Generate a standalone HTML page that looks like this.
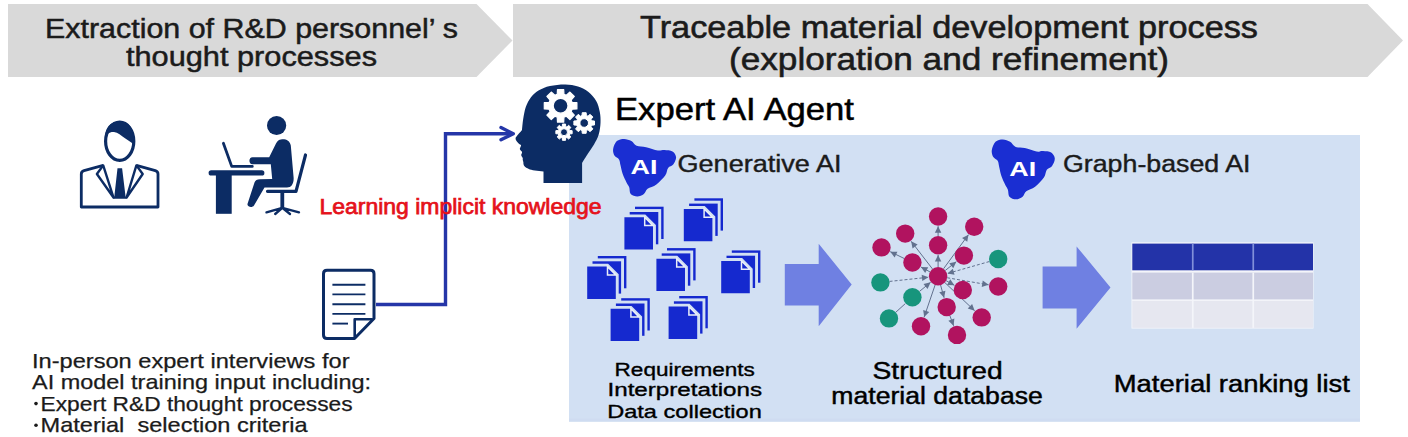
<!DOCTYPE html>
<html><head><meta charset="utf-8"><style>
html,body{margin:0;padding:0;background:#fff;width:1408px;height:437px;overflow:hidden}
svg{display:block}
text{font-family:"Liberation Sans",sans-serif}
</style></head><body>
<svg width="1408" height="437" viewBox="0 0 1408 437">
<polygon points="8,4 476.5,4 512.5,40.5 476.5,77 8,77" fill="#d9d9d9"/>
<polygon points="513,4 1367.5,4 1403,40.5 1367.5,77 513,77" fill="#d9d9d9"/>
<text x="45" y="37.8" font-size="27.5" textLength="413" lengthAdjust="spacingAndGlyphs" fill="#1b1b1b" stroke="#1b1b1b" stroke-width="0.5">Extraction of R&amp;D personnel’ s</text>
<text x="126" y="65.8" font-size="27.5" textLength="251" lengthAdjust="spacingAndGlyphs" fill="#1b1b1b" stroke="#1b1b1b" stroke-width="0.5">thought processes</text>
<text x="640" y="37.7" font-size="30.5" textLength="618" lengthAdjust="spacingAndGlyphs" fill="#1b1b1b" stroke="#1b1b1b" stroke-width="0.55">Traceable material development process</text>
<text x="729" y="69.8" font-size="30.5" textLength="440" lengthAdjust="spacingAndGlyphs" fill="#1b1b1b" stroke="#1b1b1b" stroke-width="0.55">(exploration and refinement)</text>
<rect x="569" y="135" width="791" height="286.6" fill="#d2e0f3"/>
<rect x="569" y="418.6" width="791" height="3" fill="#cfdcf1"/>
<text x="615" y="119.6" font-size="31.5" textLength="239" lengthAdjust="spacingAndGlyphs" fill="#000" stroke="#000" stroke-width="0.5">Expert AI Agent</text>
<polyline points="376,304.5 445.5,304.5 445.5,133.7 512,133.7" fill="none" stroke="#2536a8" stroke-width="3.4"/>
<polyline points="501,127.6 513.3,133.7 501,139.8" fill="none" stroke="#2536a8" stroke-width="3.4" stroke-linecap="round" stroke-linejoin="round"/>
<text x="319.5" y="214.3" font-size="22" textLength="282" lengthAdjust="spacingAndGlyphs" fill="#e5121b" stroke="#e5121b" stroke-width="0.75">Learning implicit knowledge</text>
<path d="M522.00,129.90 C522.20,128.08 522.57,122.82 523.20,119.00 C523.83,115.18 524.53,110.58 525.80,107.00 C527.07,103.42 528.68,100.25 530.80,97.50 C532.92,94.75 535.30,92.42 538.50,90.50 C541.70,88.58 545.53,87.02 550.00,86.00 C554.47,84.98 560.63,84.32 565.30,84.40 C569.97,84.48 574.13,85.23 578.00,86.50 C581.87,87.77 585.47,89.58 588.50,92.00 C591.53,94.42 594.32,97.67 596.20,101.00 C598.08,104.33 599.08,108.33 599.80,112.00 C600.52,115.67 600.68,119.25 600.50,123.00 C600.32,126.75 599.78,130.92 598.70,134.50 C597.62,138.08 595.78,141.33 594.00,144.50 C592.22,147.67 589.98,150.42 588.00,153.50 C586.02,156.58 583.08,161.42 582.10,163.00 L582.1,183 L543.5,183 L543.5,171.5 C538,170.5 531,170.3 528.9,168.9 C524.8,167.3 523.2,165.5 523.4,162.5 C523.3,160.8 522.4,160 522.8,158.2 C522.4,157 521,156 521.2,154.8 C521.6,153.6 522.3,152.8 522,151.8 C521,150.8 519.8,149.8 519.8,148.8 C520.2,147.2 521.3,146.0 521,144.9 C519.8,144.3 518.3,143.6 518,142.8 C516.8,141.5 515.2,139.8 515.6,137.8 C517.5,134.5 521,131.5 522,129.9 Z" fill="#0c2c64"/>
<path d="M557.25,94.28 L557.49,89.49 L563.71,89.49 L563.95,94.28 L566.38,95.28 L569.93,92.07 L574.33,96.47 L571.12,100.02 L572.12,102.45 L576.91,102.69 L576.91,108.91 L572.12,109.15 L571.12,111.58 L574.33,115.13 L569.93,119.53 L566.38,116.32 L563.95,117.32 L563.71,122.11 L557.49,122.11 L557.25,117.32 L554.82,116.32 L551.27,119.53 L546.87,115.13 L550.08,111.58 L549.08,109.15 L544.29,108.91 L544.29,102.69 L549.08,102.45 L550.08,100.02 L546.87,96.47 L551.27,92.07 L554.82,95.28 Z M568.00,105.80 A7.4,7.4 0 1,0 553.20,105.80 A7.4,7.4 0 1,0 568.00,105.80 Z" fill="#fff" stroke="#fff" stroke-width="1.2" stroke-linejoin="round" fill-rule="evenodd"/>
<path d="M582.02,115.51 L582.23,112.69 L586.17,112.69 L586.38,115.51 L587.96,116.16 L590.10,114.32 L592.88,117.10 L591.04,119.24 L591.69,120.82 L594.51,121.03 L594.51,124.97 L591.69,125.18 L591.04,126.76 L592.88,128.90 L590.10,131.68 L587.96,129.84 L586.38,130.49 L586.17,133.31 L582.23,133.31 L582.02,130.49 L580.44,129.84 L578.30,131.68 L575.52,128.90 L577.36,126.76 L576.71,125.18 L573.89,124.97 L573.89,121.03 L576.71,120.82 L577.36,119.24 L575.52,117.10 L578.30,114.32 L580.44,116.16 Z M588.50,123.00 A4.3,4.3 0 1,0 579.90,123.00 A4.3,4.3 0 1,0 588.50,123.00 Z" fill="#fff" stroke="#fff" stroke-width="1.0" stroke-linejoin="round" fill-rule="evenodd"/>
<path d="M562.33,126.44 L562.44,124.05 L565.56,124.05 L565.67,126.44 L566.89,126.94 L568.67,125.34 L570.86,127.53 L569.26,129.31 L569.76,130.53 L572.15,130.64 L572.15,133.76 L569.76,133.87 L569.26,135.09 L570.86,136.87 L568.67,139.06 L566.89,137.46 L565.67,137.96 L565.56,140.35 L562.44,140.35 L562.33,137.96 L561.11,137.46 L559.33,139.06 L557.14,136.87 L558.74,135.09 L558.24,133.87 L555.85,133.76 L555.85,130.64 L558.24,130.53 L558.74,129.31 L557.14,127.53 L559.33,125.34 L561.11,126.94 Z M567.50,132.20 A3.5,3.5 0 1,0 560.50,132.20 A3.5,3.5 0 1,0 567.50,132.20 Z" fill="#fff" stroke="#fff" stroke-width="1.0" stroke-linejoin="round" fill-rule="evenodd"/>
<path d="M613.10,149.20 C613.47,146.75 614.97,142.82 616.80,141.10 C618.63,139.38 621.67,138.90 624.10,138.90 C626.53,138.90 629.32,139.95 631.40,141.10 C633.48,142.25 634.15,144.78 636.60,145.80 C639.05,146.82 642.57,146.42 646.10,147.20 C649.63,147.98 654.75,150.05 657.80,150.50 C660.85,150.95 661.95,149.75 664.40,149.90 C666.85,150.05 670.55,150.18 672.50,151.40 C674.45,152.62 675.98,155.00 676.10,157.20 C676.22,159.40 674.53,162.80 673.20,164.60 C671.87,166.40 669.43,166.17 668.10,168.00 C666.77,169.83 667.15,172.87 665.20,175.60 C663.25,178.33 659.33,182.20 656.40,184.40 C653.47,186.60 649.68,187.22 647.60,188.80 C645.52,190.38 645.62,192.63 643.90,193.90 C642.18,195.17 639.50,196.40 637.30,196.40 C635.10,196.40 632.05,195.42 630.70,193.90 C629.35,192.38 629.90,189.20 629.20,187.30 C628.50,185.40 627.58,184.70 626.50,182.50 C625.42,180.30 623.70,176.97 622.70,174.10 C621.70,171.23 621.12,167.75 620.50,165.30 C619.88,162.85 619.98,160.98 619.00,159.40 C618.02,157.82 615.58,157.50 614.60,155.80 C613.62,154.10 612.73,151.65 613.10,149.20 Z" fill="#1a2ed2"/>
<path d="M991.80,150.17 C992.17,147.62 993.67,143.53 995.50,141.74 C997.33,139.96 1000.37,139.46 1002.80,139.46 C1005.23,139.46 1008.02,140.55 1010.10,141.74 C1012.18,142.94 1012.85,145.57 1015.30,146.63 C1017.75,147.69 1021.27,147.27 1024.80,148.09 C1028.33,148.90 1033.45,151.05 1036.50,151.52 C1039.55,151.99 1040.65,150.74 1043.10,150.90 C1045.55,151.05 1049.25,151.19 1051.20,152.46 C1053.15,153.72 1054.68,156.20 1054.80,158.49 C1054.92,160.78 1053.23,164.31 1051.90,166.18 C1050.57,168.06 1048.13,167.81 1046.80,169.72 C1045.47,171.63 1045.85,174.78 1043.90,177.62 C1041.95,180.47 1038.03,184.49 1035.10,186.78 C1032.17,189.06 1028.38,189.71 1026.30,191.35 C1024.22,193.00 1024.32,195.34 1022.60,196.66 C1020.88,197.97 1018.20,199.26 1016.00,199.26 C1013.80,199.26 1010.75,198.23 1009.40,196.66 C1008.05,195.08 1008.60,191.77 1007.90,189.79 C1007.20,187.82 1006.28,187.09 1005.20,184.80 C1004.12,182.51 1002.40,179.05 1001.40,176.06 C1000.40,173.08 999.82,169.46 999.20,166.91 C998.58,164.36 998.68,162.42 997.70,160.78 C996.72,159.13 994.28,158.80 993.30,157.03 C992.32,155.26 991.43,152.72 991.80,150.17 Z" fill="#1a2ed2"/>
<text x="630.4" y="173.6" font-size="19.5" textLength="27" lengthAdjust="spacingAndGlyphs" fill="#fff" font-weight="bold">AI</text>
<text x="1009.2" y="175.6" font-size="19.5" textLength="27" lengthAdjust="spacingAndGlyphs" fill="#fff" font-weight="bold">AI</text>
<text x="677.5" y="172.2" font-size="23.5" textLength="164" lengthAdjust="spacingAndGlyphs" fill="#1b1b1b" stroke="#1b1b1b" stroke-width="0.4">Generative AI</text>
<text x="1063" y="172.4" font-size="23.5" textLength="187.5" lengthAdjust="spacingAndGlyphs" fill="#1b1b1b" stroke="#1b1b1b" stroke-width="0.4">Graph-based AI</text>
<rect x="633.55" y="205.25" width="31.50" height="35.20" fill="#1529cf" stroke="#d2e0f3" stroke-width="2.9"/>
<rect x="628.25" y="210.55" width="31.50" height="35.20" fill="#1529cf" stroke="#d2e0f3" stroke-width="2.9"/>
<polygon points="622.95,215.85 644.70,215.85 654.45,225.60 654.45,251.05 622.95,251.05" fill="#1529cf" stroke="#d2e0f3" stroke-width="2.9"/>
<polygon points="644.70,217.30 653.00,225.60 644.70,225.60" fill="#1529cf" stroke="#e9eef9" stroke-width="1.5"/>
<rect x="692.95" y="196.85" width="31.50" height="35.20" fill="#1529cf" stroke="#d2e0f3" stroke-width="2.9"/>
<rect x="687.65" y="202.15" width="31.50" height="35.20" fill="#1529cf" stroke="#d2e0f3" stroke-width="2.9"/>
<polygon points="682.35,207.45 704.10,207.45 713.85,217.20 713.85,242.65 682.35,242.65" fill="#1529cf" stroke="#d2e0f3" stroke-width="2.9"/>
<polygon points="704.10,208.90 712.40,217.20 704.10,217.20" fill="#1529cf" stroke="#e9eef9" stroke-width="1.5"/>
<rect x="596.35" y="254.55" width="31.50" height="35.20" fill="#1529cf" stroke="#d2e0f3" stroke-width="2.9"/>
<rect x="591.05" y="259.85" width="31.50" height="35.20" fill="#1529cf" stroke="#d2e0f3" stroke-width="2.9"/>
<polygon points="585.75,265.15 607.50,265.15 617.25,274.90 617.25,300.35 585.75,300.35" fill="#1529cf" stroke="#d2e0f3" stroke-width="2.9"/>
<polygon points="607.50,266.60 615.80,274.90 607.50,274.90" fill="#1529cf" stroke="#e9eef9" stroke-width="1.5"/>
<rect x="665.55" y="246.65" width="31.50" height="35.20" fill="#1529cf" stroke="#d2e0f3" stroke-width="2.9"/>
<rect x="660.25" y="251.95" width="31.50" height="35.20" fill="#1529cf" stroke="#d2e0f3" stroke-width="2.9"/>
<polygon points="654.95,257.25 676.70,257.25 686.45,267.00 686.45,292.45 654.95,292.45" fill="#1529cf" stroke="#d2e0f3" stroke-width="2.9"/>
<polygon points="676.70,258.70 685.00,267.00 676.70,267.00" fill="#1529cf" stroke="#e9eef9" stroke-width="1.5"/>
<rect x="730.35" y="248.95" width="31.50" height="35.20" fill="#1529cf" stroke="#d2e0f3" stroke-width="2.9"/>
<rect x="725.05" y="254.25" width="31.50" height="35.20" fill="#1529cf" stroke="#d2e0f3" stroke-width="2.9"/>
<polygon points="719.75,259.55 741.50,259.55 751.25,269.30 751.25,294.75 719.75,294.75" fill="#1529cf" stroke="#d2e0f3" stroke-width="2.9"/>
<polygon points="741.50,261.00 749.80,269.30 741.50,269.30" fill="#1529cf" stroke="#e9eef9" stroke-width="1.5"/>
<rect x="619.75" y="296.75" width="31.50" height="35.20" fill="#1529cf" stroke="#d2e0f3" stroke-width="2.9"/>
<rect x="614.45" y="302.05" width="31.50" height="35.20" fill="#1529cf" stroke="#d2e0f3" stroke-width="2.9"/>
<polygon points="609.15,307.35 630.90,307.35 640.65,317.10 640.65,342.55 609.15,342.55" fill="#1529cf" stroke="#d2e0f3" stroke-width="2.9"/>
<polygon points="630.90,308.80 639.20,317.10 630.90,317.10" fill="#1529cf" stroke="#e9eef9" stroke-width="1.5"/>
<rect x="677.75" y="294.55" width="31.50" height="35.20" fill="#1529cf" stroke="#d2e0f3" stroke-width="2.9"/>
<rect x="672.45" y="299.85" width="31.50" height="35.20" fill="#1529cf" stroke="#d2e0f3" stroke-width="2.9"/>
<polygon points="667.15,305.15 688.90,305.15 698.65,314.90 698.65,340.35 667.15,340.35" fill="#1529cf" stroke="#d2e0f3" stroke-width="2.9"/>
<polygon points="688.90,306.60 697.20,314.90 688.90,314.90" fill="#1529cf" stroke="#e9eef9" stroke-width="1.5"/>
<polygon points="784.8,264 818.7,264 818.7,243.7 851.7,284.6 818.7,326.2 818.7,305.6 784.8,305.6" fill="#6f80e2"/>
<polygon points="1042.6,266.5 1076.6,266.5 1076.6,246.4 1110.5,287.4 1076.6,328.7 1076.6,308.5 1042.6,308.5" fill="#6f80e2"/>
<rect x="1131.5" y="242.3" width="182" height="86.3" fill="#f4f5fa"/>
<rect x="1132.3" y="243.6" width="180.7" height="26.7" fill="#2333a8"/>
<rect x="1132.3" y="272.6" width="180.7" height="26.8" fill="#cbcde1"/>
<rect x="1132.3" y="300.9" width="180.7" height="26.9" fill="#e6e7f0"/>
<rect x="1191.9" y="243.6" width="1.7" height="26.7" fill="#8190da"/>
<rect x="1252.4" y="243.6" width="1.7" height="26.7" fill="#8190da"/>
<rect x="1191.9" y="272.6" width="1.7" height="55.2" fill="#f4f5fa"/>
<rect x="1252.4" y="272.6" width="1.7" height="55.2" fill="#f4f5fa"/>
<line x1="938.10" y1="267.00" x2="938.10" y2="255.00" stroke="#62718e" stroke-width="1.0"/>
<polygon points="938.10,255.00 941.30,261.50 934.90,261.50" fill="#62718e"/>
<line x1="938.10" y1="236.10" x2="938.10" y2="226.20" stroke="#62718e" stroke-width="1.0"/>
<polygon points="938.10,226.20 941.30,232.70 934.90,232.70" fill="#62718e"/>
<line x1="943.53" y1="268.77" x2="968.48" y2="234.63" stroke="#62718e" stroke-width="1.0"/>
<polygon points="968.48,234.63 967.23,241.77 962.06,237.99" fill="#62718e"/>
<line x1="932.48" y1="268.92" x2="911.13" y2="241.28" stroke="#62718e" stroke-width="1.0"/>
<polygon points="911.13,241.28 917.63,244.47 912.57,248.38" fill="#62718e"/>
<line x1="904.13" y1="258.46" x2="890.22" y2="251.66" stroke="#62718e" stroke-width="1.0"/>
<polygon points="890.22,251.66 897.46,251.64 894.65,257.39" fill="#62718e"/>
<line x1="929.98" y1="271.87" x2="920.96" y2="267.06" stroke="#62718e" stroke-width="1.0"/>
<polygon points="920.96,267.06 928.20,267.30 925.19,272.94" fill="#62718e"/>
<line x1="945.29" y1="270.46" x2="956.32" y2="261.65" stroke="#62718e" stroke-width="1.0"/>
<polygon points="956.32,261.65 953.24,268.21 949.24,263.21" fill="#62718e"/>
<line x1="947.17" y1="277.75" x2="988.64" y2="284.86" stroke="#62718e" stroke-width="1.0" stroke-dasharray="3,2"/>
<polygon points="988.64,284.86 981.69,286.92 982.77,280.61" fill="#62718e"/>
<line x1="946.13" y1="280.69" x2="954.33" y2="285.27" stroke="#62718e" stroke-width="1.0"/>
<polygon points="954.33,285.27 947.10,284.89 950.22,279.31" fill="#62718e"/>
<line x1="940.57" y1="285.06" x2="944.10" y2="297.76" stroke="#62718e" stroke-width="1.0"/>
<polygon points="944.10,297.76 939.27,292.35 945.44,290.64" fill="#62718e"/>
<line x1="949.90" y1="315.73" x2="953.63" y2="325.80" stroke="#62718e" stroke-width="1.0"/>
<polygon points="953.63,325.80 948.37,320.82 954.37,318.60" fill="#62718e"/>
<line x1="944.79" y1="282.52" x2="974.65" y2="310.74" stroke="#62718e" stroke-width="1.0"/>
<polygon points="974.65,310.74 967.73,308.60 972.12,303.95" fill="#62718e"/>
<line x1="935.13" y1="284.91" x2="924.13" y2="317.12" stroke="#62718e" stroke-width="1.0"/>
<polygon points="924.13,317.12 923.20,309.93 929.26,312.00" fill="#62718e"/>
<line x1="889.55" y1="281.42" x2="928.46" y2="277.24" stroke="#62718e" stroke-width="1.0" stroke-dasharray="3,2"/>
<polygon points="928.46,277.24 922.33,281.11 921.65,274.75" fill="#62718e"/>
<line x1="989.36" y1="261.53" x2="947.43" y2="273.53" stroke="#62718e" stroke-width="1.0" stroke-dasharray="3,2"/>
<polygon points="947.43,273.53 952.79,268.67 954.56,274.82" fill="#62718e"/>
<line x1="919.52" y1="291.38" x2="930.59" y2="282.34" stroke="#62718e" stroke-width="1.0"/>
<polygon points="930.59,282.34 927.58,288.93 923.53,283.97" fill="#62718e"/>
<line x1="895.82" y1="312.22" x2="905.21" y2="303.71" stroke="#62718e" stroke-width="1.0"/>
<circle cx="938.1" cy="216.5" r="9.2" fill="#b1135f"/>
<circle cx="974.2" cy="226.8" r="9.2" fill="#b1135f"/>
<circle cx="905.2" cy="233.6" r="9.2" fill="#b1135f"/>
<circle cx="881.5" cy="247.4" r="9.2" fill="#b1135f"/>
<circle cx="938.1" cy="245.3" r="9.2" fill="#b1135f"/>
<circle cx="912.4" cy="262.5" r="9.2" fill="#b1135f"/>
<circle cx="963.9" cy="255.6" r="9.2" fill="#b1135f"/>
<circle cx="998.2" cy="286.5" r="9.2" fill="#b1135f"/>
<circle cx="962.8" cy="290" r="9.2" fill="#b1135f"/>
<circle cx="946.7" cy="307.1" r="9.2" fill="#b1135f"/>
<circle cx="981.7" cy="317.4" r="9.2" fill="#b1135f"/>
<circle cx="921" cy="326.3" r="9.2" fill="#b1135f"/>
<circle cx="957" cy="334.9" r="9.2" fill="#b1135f"/>
<circle cx="938.1" cy="276.2" r="9.2" fill="#b1135f"/>
<circle cx="880.4" cy="282.4" r="9.2" fill="#17957c"/>
<circle cx="998.2" cy="259" r="9.2" fill="#17957c"/>
<circle cx="912.4" cy="297.2" r="9.2" fill="#17957c"/>
<circle cx="889" cy="318.4" r="9.2" fill="#17957c"/>
<text x="614.6" y="375.8" font-size="18" textLength="140.3" lengthAdjust="spacingAndGlyphs" fill="#000" stroke="#000" stroke-width="0.35">Requirements</text>
<text x="607.5" y="396.3" font-size="18" textLength="154.5" lengthAdjust="spacingAndGlyphs" fill="#000" stroke="#000" stroke-width="0.35">Interpretations</text>
<text x="607.2" y="417.5" font-size="18.4" textLength="154.6" lengthAdjust="spacingAndGlyphs" fill="#000" stroke="#000" stroke-width="0.35">Data collection</text>
<text x="872.5" y="378.9" font-size="23.3" textLength="130.2" lengthAdjust="spacingAndGlyphs" fill="#000" stroke="#000" stroke-width="0.45">Structured</text>
<text x="831.3" y="403.6" font-size="23.5" textLength="211.5" lengthAdjust="spacingAndGlyphs" fill="#000" stroke="#000" stroke-width="0.45">material database</text>
<text x="1113.8" y="392.3" font-size="23" textLength="236" lengthAdjust="spacingAndGlyphs" fill="#000" stroke="#000" stroke-width="0.45">Material ranking list</text>
<text x="32" y="368" font-size="19.8" textLength="317.5" lengthAdjust="spacingAndGlyphs" fill="#1b1b1b" stroke="#1b1b1b" stroke-width="0.25">In-person expert interviews for</text>
<text x="32" y="389.1" font-size="19.8" textLength="339" lengthAdjust="spacingAndGlyphs" fill="#1b1b1b" stroke="#1b1b1b" stroke-width="0.25">AI model training input including:</text>
<circle cx="36" cy="403.6" r="1.8" fill="#1b1b1b"/>
<circle cx="36" cy="425.2" r="1.8" fill="#1b1b1b"/>
<text x="40.6" y="410.6" font-size="19.8" textLength="312" lengthAdjust="spacingAndGlyphs" fill="#1b1b1b" stroke="#1b1b1b" stroke-width="0.25">Expert R&amp;D thought processes</text>
<text x="40.6" y="431.6" font-size="19.8" textLength="267" lengthAdjust="spacingAndGlyphs" fill="#1b1b1b" stroke="#1b1b1b" stroke-width="0.25">Material&#160; selection criteria</text>
<path d="M327,270.3 L370.5,270.3 Q374,270.3 374,273.8 L374,318.5 L354.5,338.5 L327,338.5 Q323.5,338.5 323.5,335 L323.5,273.8 Q323.5,270.3 327,270.3 Z" fill="#fff" stroke="#0c2c64" stroke-width="3.0" stroke-linejoin="round"/>
<path d="M354.7,337 L354.7,319.3 L372.5,319.3" fill="none" stroke="#0c2c64" stroke-width="2.6" stroke-linejoin="round"/>
<line x1="332.4" y1="284.7" x2="365.4" y2="284.7" stroke="#0c2c64" stroke-width="1.9"/>
<line x1="332.4" y1="294.4" x2="365.4" y2="294.4" stroke="#0c2c64" stroke-width="1.9"/>
<line x1="332.4" y1="304.2" x2="365.4" y2="304.2" stroke="#0c2c64" stroke-width="1.9"/>
<line x1="332.4" y1="313.9" x2="365.4" y2="313.9" stroke="#0c2c64" stroke-width="1.9"/>
<line x1="332.4" y1="323.6" x2="348" y2="323.6" stroke="#0c2c64" stroke-width="1.9"/>
<ellipse cx="119.7" cy="141.3" rx="14.1" ry="19.1" fill="none" stroke="#0c2c64" stroke-width="3.2"/>
<path d="M105.5,138 C106,134 110,131.5 114,132 C118,132.5 121,135.5 125,138.3 C128,140.5 131,142 133.8,144.5 C134.5,128 129,121.5 119.7,121.5 C110,121.5 104.5,128 105.5,138 Z" fill="#0c2c64"/>
<path d="M103.2,165.4 L84,170.6 Q81.3,171.4 81.3,174 L81.3,207 L158,207 L158,174 Q158,171.4 155.3,170.6 L136.4,165.4" fill="none" stroke="#0c2c64" stroke-width="2.8" stroke-linejoin="round"/>
<polygon points="103.2,165.4 96.9,174 113.5,197.5" fill="none" stroke="#0c2c64" stroke-width="2.4" stroke-linejoin="round"/>
<polygon points="136.4,165.4 142.7,174 126.6,197.5" fill="none" stroke="#0c2c64" stroke-width="2.4" stroke-linejoin="round"/>
<path d="M117.5,168.3 L122.1,168.3 L125.5,196 L126.6,198.8 L113.3,198.8 L114.4,196 Z" fill="#0c2c64"/>
<circle cx="276.6" cy="125.5" r="9.6" fill="#0c2c64"/>
<rect x="208.6" y="170.2" width="55.8" height="5.3" rx="2.6" fill="#0c2c64"/>
<rect x="215.9" y="174" width="15.8" height="39.8" fill="#0c2c64"/>
<polyline points="223.4,143.2 231.7,166.4 252.3,166.4" fill="none" stroke="#0c2c64" stroke-width="2.8" stroke-linecap="round" stroke-linejoin="round"/>
<path d="M281,139.5 C285.5,138.8 289.8,140.5 290.8,145.5 L293.6,177.5 C294,183.5 291.5,187.5 287,187.5 L264.5,187.5 L254,205.5 C252.5,207.8 247.8,207.5 247.4,204.3 L254.5,182.5 C255.5,180 257,179.2 260,179.2 L272.2,179 L270.8,164.3 L252.5,164.3 C248.4,164.3 248.4,157.2 252.5,157.2 L269.2,157.2 L276,143.5 C277.5,140.8 279,139.8 281,139.5 Z" fill="#0c2c64"/>
<polyline points="305.5,155 296,191.3 267.5,191.3" fill="none" stroke="#0c2c64" stroke-width="3.2" stroke-linecap="round" stroke-linejoin="round"/>
<rect x="280.4" y="192" width="3.8" height="16" fill="#0c2c64"/>
<path d="M266.5,212.3 L282.3,207.8 L299,212.3 M275.2,214 L282.3,207.8 L290,214" fill="none" stroke="#0c2c64" stroke-width="2.4" stroke-linecap="round" stroke-linejoin="round"/>
</svg>
</body></html>
